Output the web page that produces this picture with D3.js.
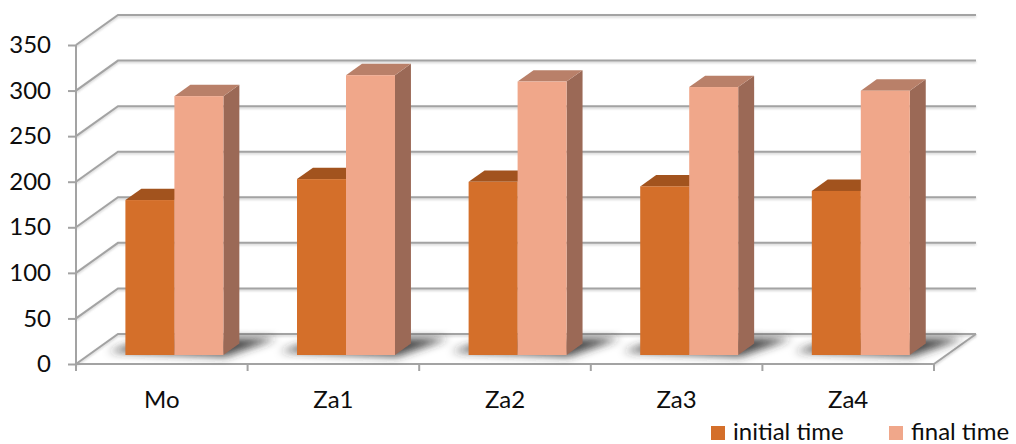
<!DOCTYPE html>
<html>
<head>
<meta charset="utf-8">
<script src="https://cdn.jsdelivr.net/npm/d3@7/dist/d3.min.js"></script>
<style>
  html, body { margin: 0; padding: 0; background: #fff; }
  svg { display: block; }
  text { font-family: Lato, "Open Sans", sans-serif; fill: #0d0d0d; }
</style>
</head>
<body>
<svg id="chart" width="1016" height="444"></svg>
<script>
// Chart data
const categories = ["Mo", "Za1", "Za2", "Za3", "Za4"];
const seriesNames = ["initial time", "final time"];
const initialTime = [170, 193, 190, 185, 180];
const finalTime = [284, 307, 300, 294, 290];
const yTicks = [0, 50, 100, 150, 200, 250, 300, 350];

const seriesValues = [initialTime, finalTime];
const seriesColors = [
  { front: "#d46f2a", top: "#a2531e", side: "#8a4a1c" },
  { front: "#f0a78a", top: "#b98069", side: "#9b6956" }
];

const svg = d3.select("#chart");
const fontSize = 24;

// Front plane of the 3D box
const plotLeft = 76, plotRight = 934, plotBottom = 364, plotTop = 45;
// Full depth offset of the box (oblique projection)
const depthX = 42, depthY = -30;
// Bars sit between these depth fractions
const barZ0 = 0.3, barZ1 = 0.68;

const x = d3.scaleBand(categories, [plotLeft, plotRight]).paddingInner(0.429).paddingOuter(0.2145);
const xs = d3.scaleBand(d3.range(seriesNames.length), [0, x.bandwidth()]);
const y = d3.scaleLinear([0, 350], [plotBottom, plotTop]);

const defs = svg.append("defs");
defs.append("filter").attr("id", "soft").attr("x", "-50%").attr("y", "-50%").attr("width", "200%").attr("height", "200%")
  .append("feGaussianBlur").attr("stdDeviation", 4);
defs.append("filter").attr("id", "lineShadow")
  .append("feGaussianBlur").attr("stdDeviation", 0.8);

const proj = (px, py, z) => [px + depthX * z, py + depthY * z];
const pts = arr => arr.map(p => p.join(",")).join(" ");

// Floor outline
const floor = [proj(plotLeft, plotBottom, 0), proj(plotRight, plotBottom, 0), proj(plotRight, plotBottom, 1), proj(plotLeft, plotBottom, 1)];

// Gridlines: side wall diagonal + back wall horizontal
const grid = svg.append("g");
yTicks.forEach(t => {
  const p0 = proj(plotLeft, y(t), 0), p1 = proj(plotLeft, y(t), 1), p2 = proj(plotRight, y(t), 1);
  grid.append("polyline")
    .attr("points", pts([p0, p1, p2].map(p => [p[0], p[1] + 1.5])))
    .attr("fill", "none").attr("stroke", "#d0d0d0").attr("stroke-width", 2)
    .attr("filter", "url(#lineShadow)");
  grid.append("polyline")
    .attr("points", pts([p0, p1, p2]))
    .attr("fill", "none").attr("stroke", "#a3a3a3").attr("stroke-width", 2);
});

// Floor right edge and front edge
[[floor[0], floor[1]], [floor[1], floor[2]]].forEach(([a, b]) => {
  grid.append("line").attr("x1", a[0]).attr("y1", a[1] + 1.5).attr("x2", b[0]).attr("y2", b[1] + 1.5)
    .attr("stroke", "#d0d0d0").attr("stroke-width", 2).attr("filter", "url(#lineShadow)");
  grid.append("line").attr("x1", a[0]).attr("y1", a[1]).attr("x2", b[0]).attr("y2", b[1])
    .attr("stroke", "#a3a3a3").attr("stroke-width", 2);
});

// Vertical value axis
grid.append("line").attr("x1", plotLeft).attr("y1", plotTop).attr("x2", plotLeft).attr("y2", plotBottom)
  .attr("stroke", "#a3a3a3").attr("stroke-width", 2);

// Value axis ticks and labels
const yAxis = svg.append("g").attr("transform", `translate(${plotLeft},0)`)
  .call(d3.axisLeft(y).tickValues(yTicks).tickSize(8).tickPadding(17).tickFormat(d3.format("d")));
yAxis.select(".domain").remove();
yAxis.selectAll(".tick line").attr("stroke", "#a3a3a3").attr("stroke-width", 2);
yAxis.selectAll(".tick text").attr("font-size", fontSize).attr("fill", "#0d0d0d")
  .style("font-family", "Lato, 'Open Sans', sans-serif");

// Category axis ticks and labels
const boundaries = categories.map(c => x(c) - x.step() * x.paddingInner() / 2).concat([plotRight]);
const xAxis = svg.append("g");
boundaries.forEach(b => {
  xAxis.append("line").attr("x1", b).attr("x2", b).attr("y1", plotBottom).attr("y2", plotBottom + 7)
    .attr("stroke", "#a3a3a3").attr("stroke-width", 2);
});
xAxis.selectAll("text.cat").data(categories).join("text").attr("class", "cat")
  .attr("x", d => x(d) + x.bandwidth() / 2)
  .attr("y", 408)
  .attr("text-anchor", "middle").attr("font-size", fontSize)
  .text(d => d);

// Soft shadows under each bar pair
const shadows = svg.append("g").attr("filter", "url(#soft)");
categories.forEach(c => {
  const x0 = x(c), x1 = x(c) + x.bandwidth();
  const poly = [
    proj(x0 - 22, plotBottom, barZ0 + 0.12),
    proj(x1 + 4, plotBottom, barZ0 - 0.05),
    proj(x1 + 30, plotBottom, barZ1 + 0.18),
    proj(x0 + 4, plotBottom, barZ1 + 0.2)
  ];
  shadows.append("polygon").attr("points", pts(poly))
    .attr("fill", "#2a2a2a").attr("opacity", 0.85);
});

// 3D bars
const bars = svg.append("g");
categories.forEach((c, i) => {
  seriesValues.forEach((vals, s) => {
    const v = vals[i];
    const col = seriesColors[s];
    const fx0 = x(c) + xs(s), fx1 = fx0 + xs.bandwidth();
    const a = proj(fx0, y(v), barZ0), b = proj(fx1, y(v), barZ0);
    const a0 = proj(fx0, y(0), barZ0), b0 = proj(fx1, y(0), barZ0);
    const bt = proj(fx1, y(v), barZ1), at = proj(fx0, y(v), barZ1), bb = proj(fx1, y(0), barZ1);
    const g = bars.append("g");
    g.append("polygon").attr("points", pts([b, bt, bb, b0])).attr("fill", col.side);
    g.append("polygon").attr("points", pts([a, b, bt, at])).attr("fill", col.top);
    g.append("rect").attr("x", a[0]).attr("y", a[1]).attr("width", b[0] - a[0]).attr("height", a0[1] - a[1])
      .attr("fill", col.front);
  });
});

// Legend
const legend = svg.append("g");
const legendX = [711, 889];
seriesNames.forEach((n, s) => {
  legend.append("rect").attr("x", legendX[s]).attr("y", 426).attr("width", 14).attr("height", 14)
    .attr("fill", seriesColors[s].front);
  legend.append("text").attr("x", legendX[s] + 22).attr("y", 440).attr("font-size", fontSize).text(n);
});
</script>
</body>
</html>
